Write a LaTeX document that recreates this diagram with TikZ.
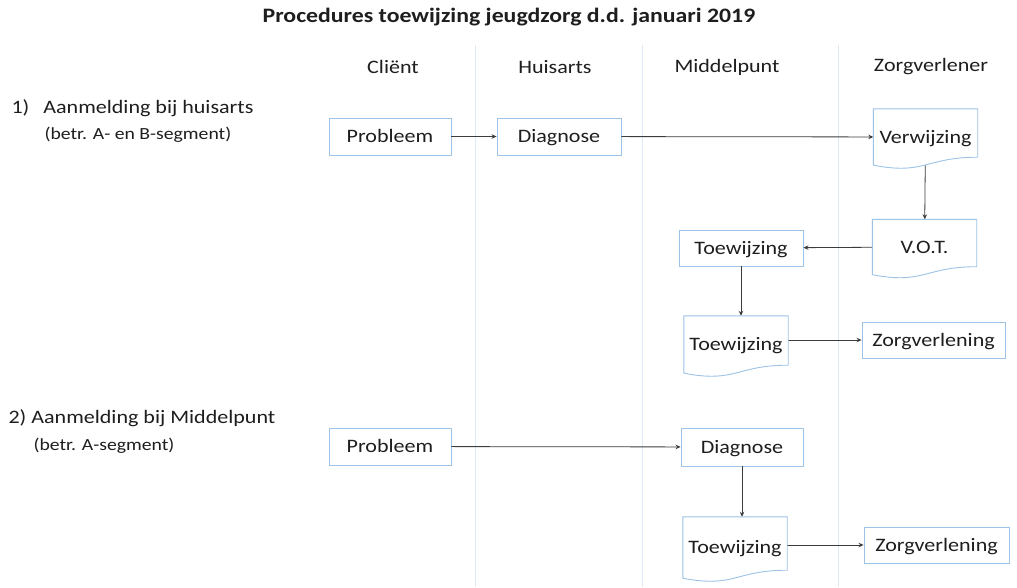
\documentclass[tikz,border=0pt]{standalone}
\usepackage{fontspec}
\setmainfont[FakeStretch=1.16]{Carlito}
\usepackage{xcolor}
\usepackage{tikz}
\usetikzlibrary{positioning,arrows.meta,calc}
\definecolor{boxblue}{RGB}{157,195,230}
\definecolor{laneblue}{RGB}{222,233,245}
\definecolor{arrowgray}{RGB}{60,60,60}
\definecolor{textgray}{RGB}{30,30,30}

\begin{document}
\begin{tikzpicture}[
            x=1pt, y=-1pt,
            box/.style={rectangle, draw=boxblue, line width=0.9pt, fill=white,
                       inner sep=0pt, minimum height=37pt, text=textgray,
                       text height=14.5pt, text depth=2.5pt,
                       font=\fontsize{19}{22}\selectfont},
            docbox/.style={rectangle, draw=none, inner sep=0pt, minimum width=104pt,
                       text=textgray, text height=14.5pt, text depth=2.5pt,
                       font=\fontsize{19}{22}\selectfont},
            docline/.style={draw=boxblue, line width=0.9pt},
            lane/.style={draw=laneblue, line width=0.9pt},
            header/.style={text=textgray, font=\fontsize{19}{22}\selectfont},
            label/.style={anchor=west, text=textgray, font=\fontsize{19}{22}\selectfont},
            sublabel/.style={anchor=west, text=textgray, font=\fontsize{17}{20}\selectfont},
            arrow/.style={-{Stealth[length=5pt,width=4.5pt]}, arrowgray, line width=0.8pt}
        ]
            \useasboundingbox[fill=white] (0,0) rectangle (1017,587);

            % kolommen
            \draw[lane] (475,45) -- (475,587);
            \draw[lane] (642,45) -- (642,587);
            \draw[lane] (838,45) -- (838,587);

            \node[text=textgray, font=\fontsize{20.5}{24}\selectfont\bfseries] (title) at (509,17)
                {Procedures toewijzing jeugdzorg d.d. januari 2019};

            \node[header] (client) at (393,67) {Cliënt};
            \node[header] (huisarts) at (555,67) {Huisarts};
            \node[header] (middelpunt) at (727,67) {Middelpunt};
            \node[header] (zorgverlener) at (931,67) {Zorgverlener};

            % 1) aanmelding bij huisarts
            \node[label] (label1) at (8,108) {1)\hspace{14pt}Aanmelding bij huisarts};
            \node[sublabel] (sub1) at (41,135) {(betr. A- en B-segment)};

            \node[box, minimum width=122pt] (probleem1) at (390,136.5) {Probleem};
            \node[box, minimum width=124pt] (diagnose1) at (559,136.5) {Diagnose};
            \node[docbox, minimum height=56pt] (verwijzing) at (925.5,137) {Verwijzing};
            \node[docbox, minimum height=55pt] (vot) at (924.5,247) {V.O.T.};
            \node[box, minimum width=124pt, minimum height=36pt] (toewijzing1) at (741,248) {Toewijzing};
            \node[docbox, minimum height=57pt] (toewijzing2) at (736,344.5) {Toewijzing};
            \node[box, minimum width=143pt, minimum height=36pt] (zorg1) at (933.5,340) {Zorgverlening};

            \draw[arrow] (probleem1) -- (diagnose1);
            \draw[arrow] (diagnose1) -- (verwijzing);
            \draw[arrow] (verwijzing) -- (vot);
            \draw[arrow] (vot) -- (toewijzing1);
            \draw[arrow] (toewijzing1.south) -- (toewijzing1.south |- toewijzing2.north);
            \draw[arrow] (toewijzing2.east |- zorg1.west) -- (zorg1.west);

            % 2) aanmelding bij middelpunt
            \node[label] (label2) at (5,418) {2) Aanmelding bij Middelpunt};
            \node[sublabel] (sub2) at (30,446) {(betr. A-segment)};

            \node[box, minimum width=122pt] (probleem2) at (390,446.5) {Probleem};
            \node[box, minimum width=122pt, minimum height=38pt] (diagnose2) at (742,447) {Diagnose};
            \node[docbox, minimum height=61pt] (toewijzing3) at (735,547.5) {Toewijzing};
            \node[box, minimum width=145pt, minimum height=36pt] (zorg2) at (936.5,545) {Zorgverlening};

            \draw[arrow] (probleem2) -- (diagnose2);
            \draw[arrow] (diagnose2.south) -- (diagnose2.south |- toewijzing3.north);
            \draw[arrow] (toewijzing3.east |- zorg2.west) -- (zorg2.west);

            % documentvormen
            \foreach \n in {verwijzing,vot,toewijzing2,toewijzing3}
                \draw[docline] (\n.south west) -- (\n.north west) -- (\n.north east)
                    -- ($(\n.south east)+(0,-8)$)
                    .. controls ($(\n.south)+(0,-8)$) and ($(\n.south)+(0,10)$) .. (\n.south west);
        \end{tikzpicture}
\end{document}
